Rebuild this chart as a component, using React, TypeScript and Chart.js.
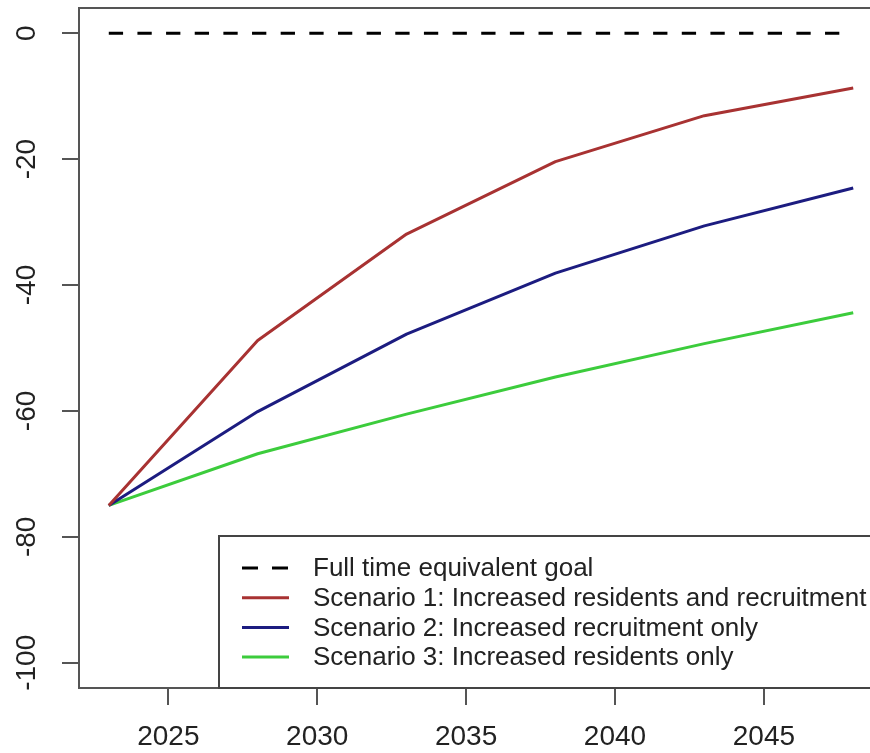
import React, { useEffect, useRef } from 'react';
import { Chart, registerables } from 'chart.js';

Chart.register(...registerables);

const years = [2023, 2028, 2033, 2038, 2043, 2048];
const goal = [0, 0, 0, 0, 0, 0];
const scenario1 = [-75, -48.8, -31.9, -20.4, -13.1, -8.7];
const scenario2 = [-75, -60.1, -47.8, -38.1, -30.6, -24.6];
const scenario3 = [-75, -66.8, -60.5, -54.6, -49.3, -44.4];

const xTicks = [2025, 2030, 2035, 2040, 2045];
const yTicks = [-100, -80, -60, -40, -20, 0];

const seriesLabels = [
  'Full time equivalent goal',
  'Scenario 1: Increased residents and recruitment',
  'Scenario 2: Increased recruitment only',
  'Scenario 3: Increased residents only',
];

const FONT = '"Liberation Sans", Arial, sans-serif';
const TEXT = '#222';
const AXIS = '#555';

const boxPlugin = {
  id: 'rbox',
  afterDraw(chart: any) {
    const { ctx, chartArea } = chart;
    const { left, top, right, bottom } = chartArea;
    ctx.save();
    ctx.strokeStyle = AXIS;
    ctx.lineWidth = 2;
    ctx.strokeRect(left, top, right - left, bottom - top);

    // legend (bottom-right, R style)
    const boxLeft = left + 140;
    const boxTop = bottom - 152;
    ctx.fillStyle = '#fff';
    ctx.fillRect(boxLeft, boxTop, right + 20 - boxLeft, bottom - boxTop);
    ctx.strokeStyle = '#444';
    ctx.lineWidth = 2;
    ctx.strokeRect(boxLeft, boxTop, right + 20 - boxLeft, bottom - boxTop);
    ctx.font = `26px ${FONT}`;
    ctx.textBaseline = 'middle';
    ctx.textAlign = 'left';
    chart.data.datasets.forEach((ds: any, i: number) => {
      const y = boxTop + 32 + i * 29.7;
      ctx.beginPath();
      ctx.strokeStyle = ds.borderColor;
      ctx.lineWidth = 3;
      ctx.setLineDash(ds.borderDash && ds.borderDash.length ? [16, 14] : []);
      ctx.moveTo(boxLeft + 23, y);
      ctx.lineTo(boxLeft + 70, y);
      ctx.stroke();
      ctx.setLineDash([]);
      ctx.fillStyle = TEXT;
      ctx.fillText(ds.label, boxLeft + 94, y + 1);
    });
    ctx.restore();
  },
};

function toPoints(vals: number[]) {
  return years.map((x, i) => ({ x, y: vals[i] }));
}

export default function App() {
  const ref = useRef<HTMLCanvasElement>(null);
  useEffect(() => {
    document.body.style.margin = '0';
    const chart = new Chart(ref.current as HTMLCanvasElement, {
      type: 'line',
      data: {
        datasets: [
          {
            label: seriesLabels[0],
            data: toPoints(goal),
            borderColor: '#000',
            borderWidth: 3,
            borderDash: [14.3, 14.35],
            pointRadius: 0,
          },
          {
            label: seriesLabels[1],
            data: toPoints(scenario1),
            borderColor: '#a83232',
            borderWidth: 3,
            pointRadius: 0,
          },
          {
            label: seriesLabels[2],
            data: toPoints(scenario2),
            borderColor: '#1c1c80',
            borderWidth: 3,
            pointRadius: 0,
          },
          {
            label: seriesLabels[3],
            data: toPoints(scenario3),
            borderColor: '#3ccc3c',
            borderWidth: 3,
            pointRadius: 0,
          },
        ],
      },
      options: {
        responsive: false,
        animation: false,
        layout: { padding: { top: 8, right: 17, left: 0, bottom: 0 } },
        elements: { line: { tension: 0, borderJoinStyle: 'round' } },
        plugins: { legend: { display: false }, tooltip: { enabled: false } },
        scales: {
          x: {
            type: 'linear',
            min: 2022,
            max: 2049,
            afterBuildTicks: (s: any) => {
              s.ticks = xTicks.map((v) => ({ value: v }));
            },
            afterFit: (s: any) => {
              s.height = 65;
              s.paddingLeft = 0;
              s.paddingRight = 0;
            },
            ticks: {
              font: { family: FONT, size: 28 },
              color: TEXT,
              padding: 15,
              maxRotation: 0,
              autoSkip: false,
              callback: (v: any) => String(v),
            },
            grid: {
              drawOnChartArea: false,
              drawTicks: true,
              tickLength: 17,
              color: AXIS,
              lineWidth: 2,
            },
            border: { display: false },
          },
          y: {
            type: 'linear',
            min: -104,
            max: 4,
            afterBuildTicks: (s: any) => {
              s.ticks = yTicks.map((v) => ({ value: v }));
            },
            afterFit: (s: any) => {
              s.width = 79;
              s.paddingTop = 0;
              s.paddingBottom = 0;
            },
            ticks: {
              font: { family: FONT, size: 28 },
              color: TEXT,
              padding: 7,
              minRotation: 90,
              maxRotation: 90,
              crossAlign: 'center',
              autoSkip: false,
              callback: (v: any) => String(v),
            },
            grid: {
              drawOnChartArea: false,
              drawTicks: true,
              tickLength: 17,
              color: AXIS,
              lineWidth: 2,
            },
            border: { display: false },
          },
        },
      },
      plugins: [boxPlugin],
    } as any);
    return () => chart.destroy();
  }, []);
  return (
    <div style={{ width: 870, height: 753, overflow: 'hidden', position: 'relative', background: '#fff' }}>
      <canvas ref={ref} width={900} height={753} style={{ display: 'block' }} />
    </div>
  );
}
